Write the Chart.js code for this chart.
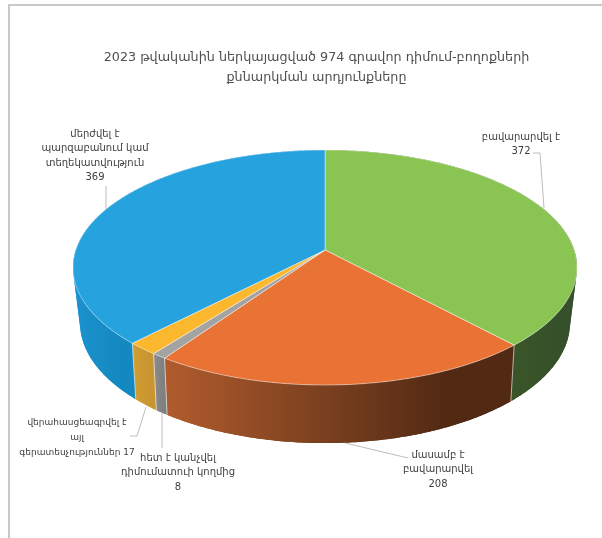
<!DOCTYPE html>
<html>
<head>
<meta charset="utf-8">
<script src="https://cdn.jsdelivr.net/npm/chart.js@4/dist/chart.umd.min.js"></script>
<style>
html, body { margin: 0; padding: 0; background: #fff; }
#wrap { position: relative; width: 602px; height: 538px; }
canvas { filter: blur(0.6px); }
</style>
</head>
<body>
<div id="wrap"><canvas id="cnv_pie" width="602" height="538"></canvas></div>
<script>
const titleLines = ['2023 թվականին ներկայացված 974 գրավոր դիմում-բողոքների', 'քննարկման արդյունքները']
const categories = ['բավարարվել է', 'մասամբ է բավարարվել', 'հետ է կանչվել դիմումատուի կողմից', 'վերահասցեագրվել է այլ գերատեսչություններ', 'մերժվել է պարզաբանում կամ տեղեկատվություն']
const values = [372, 208, 8, 17, 369]
const topColors = ['#8AC452', '#E97235', '#A3A3A3', '#FBB72D', '#26A3DE']
const wallColors = [['#3A5528', '#35502A'], ['#B05C2D', '#522A14'], ['#8C8C8C', '#808080'], ['#D29F32', '#C89530'], ['#1C93CE', '#1488C0']]

// label text broken in lines + where it goes and its leader line
const labelLayout = [
    { lines: ['բավարարվել է', '372'], size: 10, x: 521, y: 137, leader: [[533, 153], [540, 153], [544, 208]] },
    { lines: ['մասամբ է', 'բավարարվել', '208'], size: 10, x: 438, y: 455, leader: [[345, 443], [408, 458]] },
    { lines: ['հետ է կանչվել', 'դիմումատուի կողմից', '8'], size: 10, x: 178, y: 458, leader: [[162, 413], [162, 448]] },
    { lines: ['վերահասցեագրվել է', 'այլ', 'գերատեսչություններ 17'], size: 9, x: 77, y: 423, leader: [[130, 436], [137, 436], [146, 407]] },
    { lines: ['մերժվել է', 'պարզաբանում կամ', 'տեղեկատվություն', '369'], size: 10, x: 95, y: 134, leader: [[106, 186], [106, 209]] }
]

// perspective of the two rims of the pie
const topRim = { x0: 325, y0: 250, bx: 249.2, by: 114.9, tilt: -0.149 }
const lowRim = { x0: 325, y0: 303, bx: 241.6, by: 117, tilt: -0.165 }

const project = (rim, angle) => {
    const u = Math.cos(angle), v = Math.sin(angle)
    const d = 1 + rim.tilt * v
    return [rim.x0 + rim.bx * u / d, rim.y0 + rim.by * v / d]
}

const rimPoints = (rim, a0, a1) => {
    const steps = Math.max(2, Math.ceil(Math.abs(a1 - a0) / 0.01))
    const pts = []
    for (let i = 0; i <= steps; i++) pts.push(project(rim, a0 + (a1 - a0) * i / steps))
    return pts
}

const tracePath = (ctx, pts) => {
    ctx.beginPath()
    pts.forEach((p, i) => i ? ctx.lineTo(p[0], p[1]) : ctx.moveTo(p[0], p[1]))
}

const quadArea = q => {
    let s = 0
    q.forEach((p, i) => {
        const r = q[(i + 1) % q.length]
        s += p[0] * r[1] - r[0] * p[1]
    })
    return s
}

const pie3d = {
    id: 'pie3d',
    beforeDraw(chart) {
        const ctx = chart.ctx
        ctx.save()
        ctx.strokeStyle = '#C9C9C9'
        ctx.lineWidth = 2
        ctx.beginPath()
        ctx.moveTo(9, 538)
        ctx.lineTo(9, 5)
        ctx.lineTo(602, 5)
        ctx.stroke()
        ctx.restore()
    },
    beforeDatasetsDraw(chart) {
        const ctx = chart.ctx
        const arcs = chart.getDatasetMeta(0).data
        ctx.save()
        // walls first, the top face covers the back of them
        arcs.forEach((arc, i) => {
            const a0 = arc.startAngle, a1 = arc.endAngle
            const top = rimPoints(topRim, a0, a1)
            const low = rimPoints(lowRim, a0, a1)
            const angleAt = n => a0 + (a1 - a0) * n / (top.length - 1)
            const xs = top.filter((p, n) => Math.sin(angleAt(n)) > -0.4).map(p => p[0])
            const grad = ctx.createLinearGradient(Math.min(...xs), 0, Math.max(...xs), 0)
            grad.addColorStop(0, wallColors[i][0])
            grad.addColorStop(0.8, wallColors[i][1])
            grad.addColorStop(1, wallColors[i][1])
            ctx.fillStyle = grad
            tracePath(ctx, top.concat(low.slice().reverse()))
            ctx.closePath()
            ctx.fill()
            // strips fill the corner where the rims cross, one path per facing so they dont cancel
            const strips = [new Path2D(), new Path2D()]
            for (let n = 0; n < top.length - 1; n++) {
                if (Math.sin(angleAt(n)) < -0.4) continue
                const q = [top[n], top[n + 1], low[n + 1], low[n]]
                const path = strips[quadArea(q) > 0 ? 0 : 1]
                path.moveTo(q[0][0], q[0][1])
                q.slice(1).forEach(p => path.lineTo(p[0], p[1]))
                path.closePath()
            }
            strips.forEach(path => ctx.fill(path))
        })
        // seams on the wall
        ctx.strokeStyle = 'rgba(255,255,255,0.6)'
        ctx.lineWidth = 1
        arcs.forEach(arc => {
            if (Math.sin(arc.startAngle) < 0) return
            tracePath(ctx, [project(topRim, arc.startAngle), project(lowRim, arc.startAngle)])
            ctx.stroke()
        })
        // top face
        arcs.forEach((arc, i) => {
            tracePath(ctx, [[topRim.x0, topRim.y0]].concat(rimPoints(topRim, arc.startAngle, arc.endAngle)))
            ctx.closePath()
            ctx.fillStyle = topColors[i]
            ctx.fill()
            ctx.strokeStyle = 'rgba(255,255,255,0.45)'
            ctx.stroke()
        })
        ctx.restore()
        return false
    },
    afterDraw(chart) {
        const ctx = chart.ctx
        ctx.save()
        ctx.textAlign = 'center'
        ctx.textBaseline = 'middle'
        labelLayout.forEach(label => {
            ctx.font = label.size + 'px "DejaVu Sans"'
            ctx.fillStyle = '#404040'
            label.lines.forEach((line, n) => ctx.fillText(line, label.x, label.y + n * 14.6))
            tracePath(ctx, label.leader)
            ctx.strokeStyle = '#BDBDBD'
            ctx.lineWidth = 1
            ctx.stroke()
        })
        ctx.restore()
    }
}

const ctx = document.getElementById('cnv_pie').getContext('2d')
const myChart = new Chart(ctx, {
    type: 'pie',
    plugins: [pie3d],
    data: {
        labels: categories,
        datasets: [{
            data: values,
            backgroundColor: topColors,
            borderWidth: 0
        }]
    },
    options: {
        responsive: false,
        animation: false,
        layout: { padding: { left: 31 } },
        plugins: {
            legend: { display: false },
            tooltip: { enabled: false },
            title: {
                display: true,
                text: titleLines,
                color: '#505050',
                font: { family: '"DejaVu Sans"', size: 12.75, weight: 'normal', lineHeight: 1.57 },
                padding: { top: 48, bottom: 10 }
            }
        }
    }
})
</script>
</body>
</html>
